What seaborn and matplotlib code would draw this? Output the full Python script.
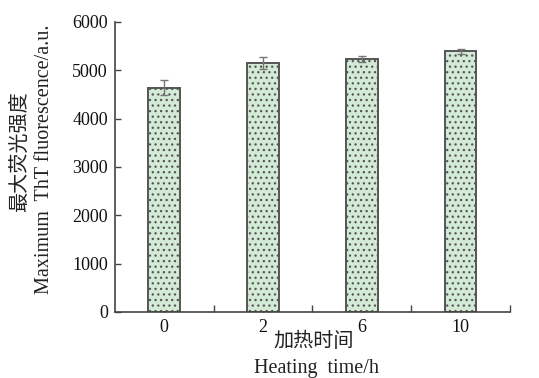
import matplotlib
matplotlib.use("Agg")
import matplotlib.pyplot as plt
import seaborn as sns
import pandas as pd
import numpy as np

categories = ["0", "2", "6", "10"]
values = [4640, 5145, 5235, 5395]
errors = [160, 125, 60, 55]

sns.set_theme(style="white")
plt.rcParams['font.family'] = ['Liberation Serif', 'Noto Sans CJK SC']
plt.rcParams['hatch.color'] = '#56665a'
plt.rcParams['hatch.linewidth'] = 0.9

df = pd.DataFrame({"time": categories, "value": values})

fig = plt.figure(figsize=(5.39, 3.78), dpi=100)
ax = fig.add_axes([0.213, 0.175, 0.733, 0.767])

sns.barplot(data=df, x="time", y="value", ax=ax, color="#d3ead6",
            width=0.32, edgecolor="#555555", linewidth=1.4, hatch="...",
            errorbar=None, saturation=1)
ax.errorbar(x=np.arange(len(categories)), y=values, yerr=errors, fmt="none",
            ecolor="#777777", elinewidth=1.0, capsize=3, capthick=1.0)

ax.set_ylim(0, 6000)
ax.set_xlim(-0.5, 3.5)
ax.set_yticks([0, 1000, 2000, 3000, 4000, 5000, 6000])
ax.set_xticks(np.arange(len(categories)))
ax.set_xticklabels(categories)
ax.set_xticks(np.arange(len(categories)) + 0.5, minor=True)
ax.tick_params(axis="both", which="both", direction="in", length=4,
               width=1.0, color="#444444", labelsize=13, labelcolor="#111111",
               bottom=True, left=True, pad=5)
ax.tick_params(axis="x", which="minor", length=5)
for s in ["top", "right"]:
    ax.spines[s].set_visible(False)
for s in ["left", "bottom"]:
    ax.spines[s].set_color("#444444")
    ax.spines[s].set_linewidth(1.2)

ax.set_xlabel("")
ax.set_ylabel("")
fig.text(314 / 539, 1 - 342 / 378, "加热时间", fontsize=14.5, color="#222222",
         ha="center", va="center")
fig.text(316 / 539, 1 - 369 / 378, "Heating  time/h", fontsize=14.5,
         color="#222222", ha="center", va="center")
fig.text(20 / 539, 1 - 152 / 378, "最大荧光强度", fontsize=14.5, color="#222222",
         ha="center", va="center", rotation=90)
fig.text(45 / 539, 1 - 159 / 378, "Maximum  ThT fluorescence/a.u.",
         fontsize=14.5, color="#222222", ha="center", va="center", rotation=90)

fig.savefig("out.png", dpi=100)
